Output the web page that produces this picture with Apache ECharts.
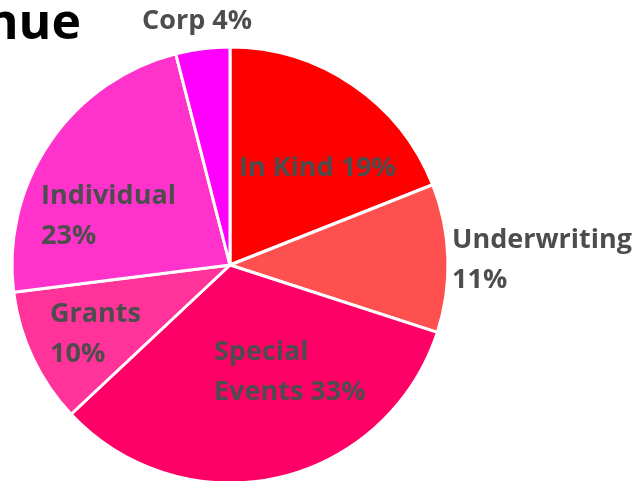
<!DOCTYPE html>
<html>
<head>
<meta charset="utf-8">
<script src="https://cdn.jsdelivr.net/npm/echarts@6/dist/echarts.min.js"></script>
<style>
  html, body { margin: 0; padding: 0; background: #fff; }
  #chart_container { width: 639px; height: 481px; }
</style>
</head>
<body>
<div id="chart_container"></div>
<script>
"use strict";

// revenue share, clockwise from 12 o'clock
const categories = ['In Kind', 'Underwriting', 'Special Events', 'Grants', 'Individual', 'Corp'];
const shares = [19, 11, 33, 10, 23, 4];
const sliceColors = ['#FF0000', '#FF5050', '#FF0066', '#FF3399', '#FF33CC', '#FF00FF'];
const labelTexts = ['In Kind 19%', 'Underwriting\n11%', 'Special\nEvents 33%', 'Grants\n10%', 'Individual\n23%', 'Corp 4%'];

// where each label sits (left/top of the text block)
const labelSpots = [[239, 148], [452, 220], [214, 332], [50, 294], [41, 176], [142, 1]];

let pageLoaded = () => {
    let chartDom = document.getElementById('chart_container');
    let myChart = echarts.init(chartDom);

    let pieData = categories.map((c, i) => ({
        name: c,
        value: shares[i],
        itemStyle: { color: sliceColors[i] }
    }));

    let optEchart = {
        animation: false,
        backgroundColor: '#ffffff',
        graphic: [{
            type: 'text',
            x: 81,
            y: 25,
            style: {
                text: 'Revenue',
                fontSize: 50,
                fontWeight: 'bold',
                fontFamily: 'Open Sans',
                fill: '#000000',
                align: 'right',
                verticalAlign: 'middle'
            }
        }],
        series: [{
            type: 'pie',
            center: [230, 265],
            radius: 218,
            startAngle: 90,
            clockwise: true,
            data: pieData,
            itemStyle: { borderColor: '#ffffff', borderWidth: 3 },
            label: {
                show: true,
                position: 'inside',
                formatter: (p) => labelTexts[p.dataIndex],
                color: '#4d4d4d',
                fontSize: 27,
                fontWeight: 'bold',
                fontFamily: 'Open Sans',
                lineHeight: 40,
                align: 'left'
            },
            labelLine: { show: false },
            labelLayout: (params) => ({
                x: labelSpots[params.dataIndex][0],
                y: labelSpots[params.dataIndex][1],
                align: 'left',
                verticalAlign: 'top'
            }),
            emphasis: { disabled: true }
        }]
    };

    myChart.setOption(optEchart);
};

window.addEventListener('load', pageLoaded, false);
</script>
</body>
</html>
